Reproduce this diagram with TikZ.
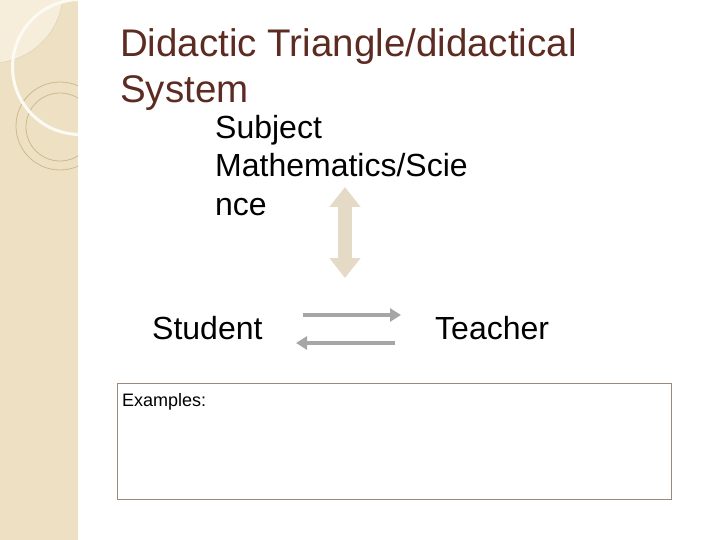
\documentclass[tikz,border=0pt]{standalone}
\usepackage{fontspec}
\setmainfont{Liberation Sans}
\usetikzlibrary{arrows.meta}

\newlength{\du}
\setlength{\du}{1pt}

\definecolor{bandcolor}{rgb}{0.933, 0.882, 0.765}
\definecolor{bandlight}{rgb}{0.965, 0.933, 0.855}
\definecolor{ringcolor}{rgb}{0.800, 0.725, 0.560}
\definecolor{titlecolor}{rgb}{0.360, 0.170, 0.130}
\definecolor{beigearrow}{rgb}{0.898, 0.855, 0.773}
\definecolor{grayarrow}{rgb}{0.650, 0.650, 0.650}
\definecolor{boxcolor}{rgb}{0.620, 0.530, 0.490}

\tikzset{
  titletext/.style={anchor=base west, inner sep=0pt, text=titlecolor,
    font=\fontsize{38.5\du}{46\du}\selectfont, align=left},
  bigtext/.style={anchor=base west, inner sep=0pt,
    font=\fontsize{32\du}{38.5\du}\selectfont, align=left},
  greyline/.style={draw=grayarrow, line width=4\du,
    -{Triangle[width=13pt,length=11pt]}},
}

\begin{document}
\begin{tikzpicture}
\pgftransformxscale{1.000000}
\pgftransformyscale{-1.000000}
\useasboundingbox (0\du,0\du) rectangle (720\du,540\du);
% left band
\fill[bandcolor] (0\du,0\du) rectangle (78\du,540\du);
\begin{scope}
\clip (0\du,0\du) rectangle (78\du,540\du);
\fill[bandlight, draw=ringcolor!60, line width=0.6\du] (-8\du,-8\du) circle (71\du);
\draw[ringcolor, line width=0.8\du] (60\du,126\du) circle (44\du);
\draw[ringcolor, line width=0.8\du] (60\du,127\du) circle (34\du);
\draw[white!70!bandlight, line width=3\du] (80\du,67\du) circle (67.5\du);
\end{scope}
% title (base = last line)
\node[titletext] (title) at (120\du,103\du){Didactic Triangle/didactical\\System};
% triangle corners
\node[bigtext] (subject) at (215\du,215\du){Subject\\Mathematics/Scie\\nce};
\node[bigtext] (student) at (152\du,339\du){Student};
\node[bigtext] (teacher) at (435\du,339\du){Teacher};
% connectors
\coordinate (sbtop) at (345\du,187\du);
\coordinate (sbbot) at (345\du,278\du);
\draw[beigearrow, line width=14\du,
  {Triangle[width=30pt,length=20pt]}-{Triangle[width=30pt,length=20pt]}] (sbtop) -- (sbbot);
\coordinate (stuout) at (303\du,315\du);
\coordinate (teain) at (401\du,315\du);
\coordinate (teaout) at (395\du,343\du);
\coordinate (stuin) at (296\du,343\du);
\draw[greyline] (stuout) -- (teain);
\draw[greyline] (teaout) -- (stuin);
% examples box
\draw[boxcolor, line width=1\du, fill=white] (117\du,383\du) rectangle (671\du,499\du);
\node[anchor=base west, inner sep=0pt, font=\fontsize{18\du}{21\du}\selectfont] (examples) at (122\du,406\du){Examples:};
\end{tikzpicture}
\end{document}
